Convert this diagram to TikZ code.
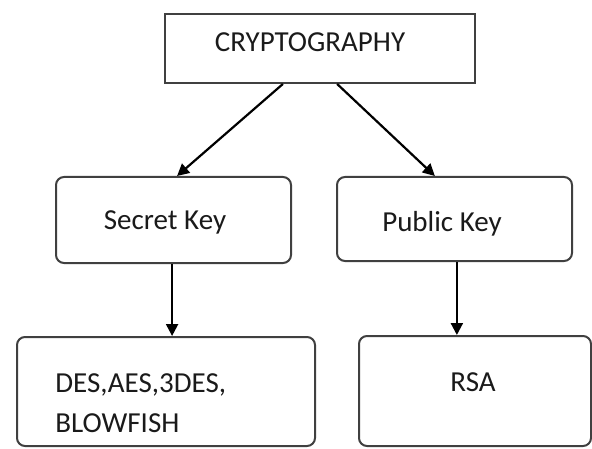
\documentclass[tikz,border=0pt]{standalone}
\usepackage{fontspec}
\setmainfont{Carlito}
\usepackage{xcolor}
\usetikzlibrary{arrows.meta,positioning,calc}

\definecolor{boxline}{HTML}{404040}
\definecolor{txt}{HTML}{1A1A1A}

\tikzset{
  plainbox/.style={draw=boxline, line width=1pt, inner sep=0pt},
  roundbox/.style={plainbox, rounded corners=4pt},
  lbl/.style={text=txt, inner sep=0pt, font=\fontsize{14.5}{17}\selectfont},
  arr/.style={-{Triangle[length=6pt,width=6pt]}, line width=1.1pt, black}
}

\begin{document}
\begin{tikzpicture}[x=0.5pt, y=-0.5pt]
    \useasboundingbox (0,0) rectangle (592,448);

    % top box
    \node[plainbox, minimum width=155pt, minimum height=34.5pt] (crypto) at (320,48.5) {};
    \node[lbl] (cryptotext) at (310,42) {CRYPTOGRAPHY};

    % key types
    \node[roundbox, minimum width=117.5pt, minimum height=43pt] (secret) at (173.5,220) {};
    \node[lbl] (secrettext) at (165,222) {Secret Key};
    \node[roundbox, minimum width=117.5pt, minimum height=42pt] (public) at (454.5,219) {};
    \node[lbl] (publictext) at (442,224) {Public Key};

    % algorithms
    \node[roundbox, minimum width=149pt, minimum height=54.5pt] (sym) at (166,391.5) {};
    \node[lbl, anchor=west] (symtextA) at (55,385) {DES,AES,3DES,};
    \node[lbl, anchor=west] (symtextB) at (55,423) {BLOWFISH};
    \node[roundbox, minimum width=116pt, minimum height=55pt] (rsa) at (475,391) {};
    \node[lbl] (rsatext) at (473,382) {RSA};

    % arrows
    \draw[arr] ($(crypto.south west)!0.381!(crypto.south east)$) -- ($(secret.north west)!0.515!(secret.north east)$);
    \draw[arr] ($(crypto.south west)!0.555!(crypto.south east)$) -- ($(public.north west)!0.417!(public.north east)$);
    \coordinate (secretout) at ($(secret.south west)!0.494!(secret.south east)$);
    \coordinate (publicout) at ($(public.south west)!0.51!(public.south east)$);
    \draw[arr] (secretout) -- (secretout |- sym.north);
    \draw[arr] (publicout) -- (publicout |- rsa.north);
\end{tikzpicture}
\end{document}
